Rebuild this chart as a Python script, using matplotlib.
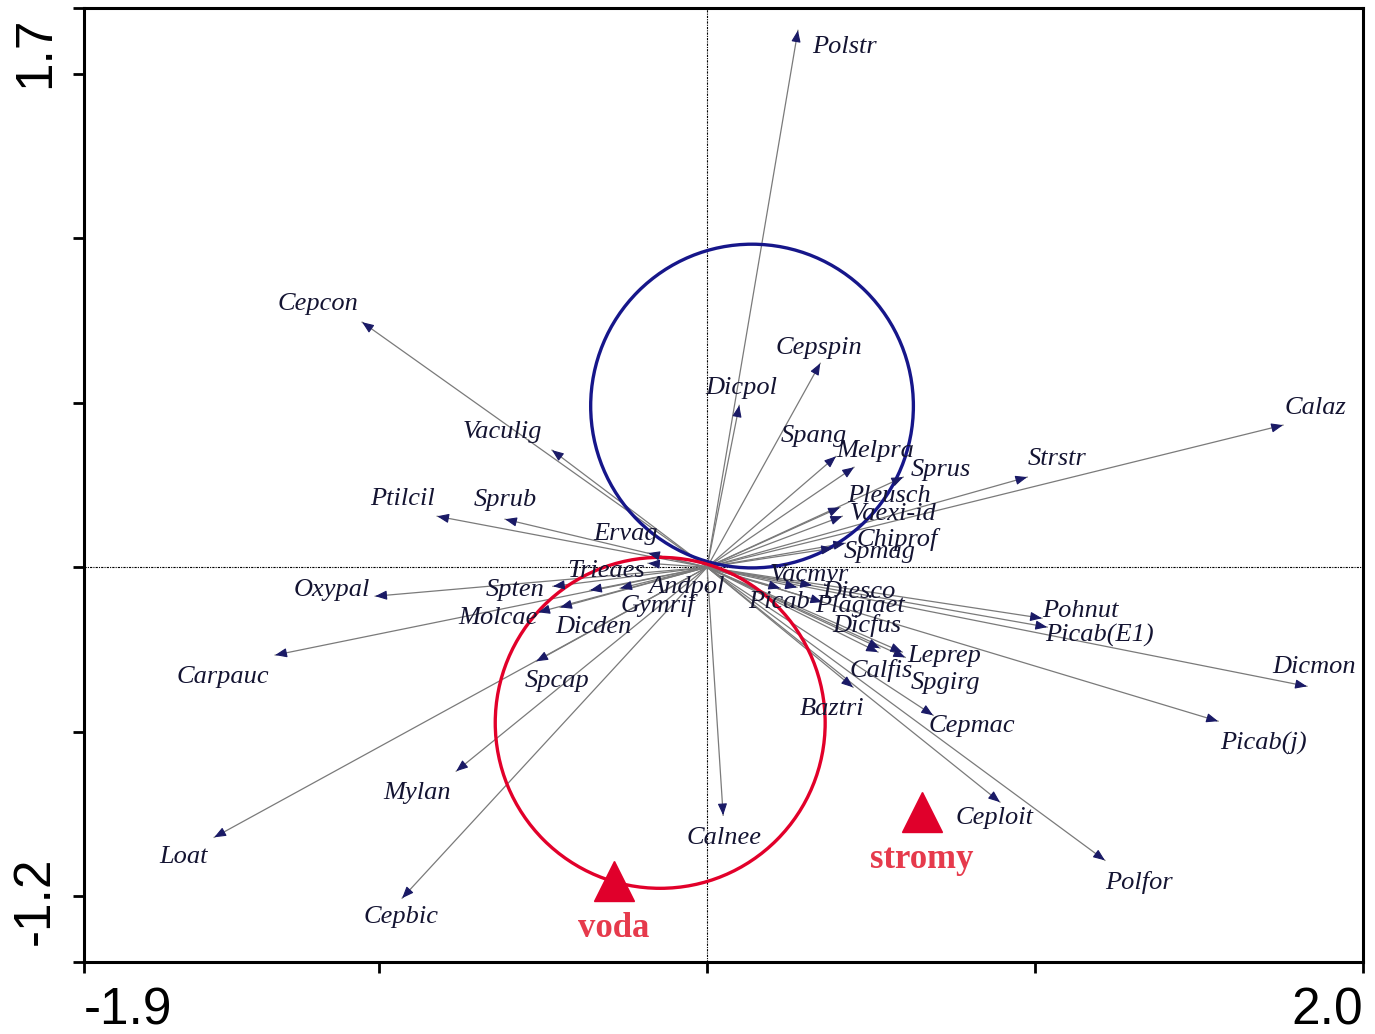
import numpy as np
import matplotlib
matplotlib.use("Agg")
import matplotlib.pyplot as plt
from matplotlib.patches import Circle

# species scores (arrow tips)
species = ["Polstr", "Cepcon", "Cepspin", "Dicpol", "Calaz", "Vaculig", "Spang",
           "Melpra", "Sprus", "Strstr", "Pleusch", "Vaexi-id", "Chiprof", "Spmag",
           "Ptilcil", "Sprub", "Ervag", "Trieaes", "Oxypal", "Spten", "Molcae",
           "Dicden", "Carpauc", "Andpol", "Gymrif", "Spcap", "Mylan", "Loat",
           "Cepbic", "Calnee", "Vacmyr", "Diesco", "Picab", "Plagiaet", "Dicfus",
           "Leprep", "Calfis", "Spgirg", "Baztri", "Cepmac", "Ceploit", "Polfor",
           "Pohnut", "Picab(E1)", "Dicmon", "Picab(j)"]
ax1 = [0.277, -1.052, 0.345, 0.098, 1.756, -0.473, 0.393,
       0.448, 0.598, 0.976, 0.405, 0.412, 0.421, 0.384,
       -0.823, -0.616, -0.180, -0.180, -1.012, -0.470, -0.515,
       -0.448, -1.317, -0.265, -0.357, -0.521, -0.765, -1.503,
       -0.930, 0.049, 0.274, 0.320, 0.223, 0.351, 0.527,
       0.595, 0.521, 0.604, 0.445, 0.689, 0.893, 1.213,
       1.021, 1.037, 1.829, 1.558]
ax2 = [1.632, 0.745, 0.620, 0.492, 0.432, 0.356, 0.337,
       0.304, 0.274, 0.274, 0.182, 0.155, 0.073, 0.058,
       0.155, 0.146, 0.043, 0.012, -0.088, -0.058, -0.137,
       -0.122, -0.267, -0.064, -0.070, -0.286, -0.620, -0.821,
       -1.006, -0.754, -0.061, -0.055, -0.064, -0.106, -0.246,
       -0.258, -0.258, -0.274, -0.365, -0.450, -0.714, -0.891,
       -0.155, -0.182, -0.362, -0.468]

# label anchor points (left edge, vertical centre)
lab_x = [0.320, -1.311, 0.210, -0.006, 1.762, -0.744, 0.223,
         0.393, 0.622, 0.979, 0.427, 0.436, 0.457, 0.415,
         -1.027, -0.713, -0.348, -0.427, -1.262, -0.674, -0.759,
         -0.463, -1.619, -0.180, -0.265, -0.555, -0.988, -1.671,
         -1.049, -0.064, 0.192, 0.351, 0.125, 0.329, 0.381,
         0.610, 0.433, 0.622, 0.284, 0.674, 0.756, 1.213,
         1.021, 1.030, 1.723, 1.564]
lab_y = [1.587, 0.805, 0.672, 0.550, 0.489, 0.416, 0.404,
         0.359, 0.301, 0.334, 0.222, 0.167, 0.091, 0.052,
         0.213, 0.210, 0.106, -0.006, -0.064, -0.064, -0.149,
         -0.176, -0.328, -0.055, -0.109, -0.340, -0.681, -0.875,
         -1.058, -0.818, -0.018, -0.070, -0.100, -0.112, -0.170,
         -0.264, -0.307, -0.347, -0.426, -0.477, -0.757, -0.951,
         -0.128, -0.201, -0.298, -0.529]

# nominal environmental variables (centroids) and their circles
env_names = ["voda", "stromy"]
env_x = [-0.284, 0.655]
env_y = [-0.954, -0.744]
circle_cx = [0.137, -0.143]
circle_cy = [0.490, -0.473]
circle_r = [0.492, 0.503]
circle_col = ["#16168a", "#e2002a"]

xlim = (-1.9, 2.0)
ylim = (-1.2, 1.7)

fig = plt.figure(figsize=(13.75, 10.34), dpi=100)
ax = fig.add_axes([84 / 1375, 72 / 1034, 1279 / 1375, 954 / 1034])
ax.set_xlim(*xlim)
ax.set_ylim(*ylim)

# dotted zero lines
ax.axhline(0, color="black", lw=0.8, ls=(0, (2, 1, 1, 1)), zorder=1)
ax.axvline(0, color="black", lw=0.8, ls=(0, (2, 1, 1, 1)), zorder=1)

# circles
for cx, cy, r, c in zip(circle_cx, circle_cy, circle_r, circle_col):
    ax.add_patch(Circle((cx, cy), r, fill=False, ec=c, lw=2.4, zorder=3))

# species arrows
for name, x, y, lx, ly in zip(species, ax1, ax2, lab_x, lab_y):
    ax.plot([0, x], [0, y], color="#7a7a7a", lw=0.9, zorder=2)
    L = np.hypot(x, y)
    bx, by = x - 0.02 * x / L, y - 0.02 * y / L
    ax.annotate("", xy=(x, y), xytext=(bx, by),
                arrowprops=dict(arrowstyle="-|>,head_length=0.5,head_width=0.2",
                                color="#1a1a66", lw=0.8, shrinkA=0, shrinkB=0,
                                mutation_scale=14), zorder=4)
    ax.text(lx, ly - 0.006, name, fontsize=19, family="Liberation Serif",
            style="italic", color="#141432", ha="left", va="center", zorder=5)

# environmental centroids
ax.plot(env_x, env_y, ls="none", marker="^", ms=29, color="#e0002b", zorder=6)
for name, x, y in zip(env_names, env_x, env_y):
    ax.text(x, y - 0.145, name, fontsize=25, family="Liberation Serif",
            weight="bold", color="#e63a4c", ha="center", va="center", zorder=6)

# frame and ticks
for s in ax.spines.values():
    s.set_linewidth(2.2)
ax.set_xticks([-1.9, -1.0, 0.0, 1.0, 2.0])
ax.set_yticks([-1.2, -1.0, -0.5, 0.0, 0.5, 1.0, 1.5, 1.7])
ax.set_xticklabels([])
ax.set_yticklabels([])
ax.tick_params(direction="out", length=8, width=2.0)

tf = dict(fontsize=37, family="Liberation Sans", color="black")
ax.text(0.0, -0.051, "-1.9", transform=ax.transAxes, ha="left", va="center", **tf)
ax.text(1.0, -0.051, "2.0", transform=ax.transAxes, ha="right", va="center", **tf)
ax.text(-0.038, 1.0 - 9 / 954, "1.7", transform=ax.transAxes, ha="center",
        va="top", rotation=90, **tf)
ax.text(-0.038, 17 / 954, "-1.2", transform=ax.transAxes, ha="center",
        va="bottom", rotation=90, **tf)

fig.savefig("out.png", dpi=100)
